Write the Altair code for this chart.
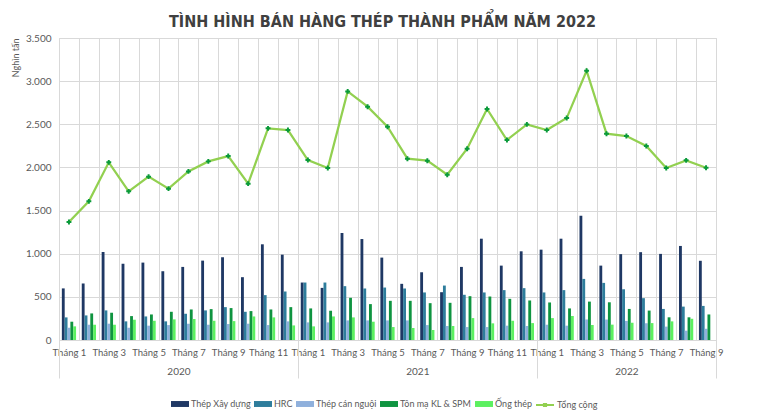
import json
import altair as alt
import pandas as pd

# ---------------- data ----------------
years = ["2020"] * 12 + ["2021"] * 12 + ["2022"] * 9
months = list(range(1, 13)) * 2 + list(range(1, 10))
keys = [f"{y}-{m:02d}" for y, m in zip(years, months)]
tick_labels = [f"Tháng {m}" if m % 2 == 1 else "" for m in months]

series_names = ["Thép Xây dựng", "HRC", "Thép cán nguội", "Tôn mạ KL & SPM", "Ống thép"]
total_name = "Tổng cộng"

thep_xd = [598, 655, 1020, 885, 897, 797, 847, 920, 959, 728, 1109, 989,
           666, 604, 1240, 1170, 955, 651, 785, 554, 847, 1174, 862, 1028,
           1047, 1174, 1440, 862, 995, 1018, 998, 1090, 918]
hrc = [262, 285, 343, 216, 273, 216, 304, 343, 381, 327, 520, 562,
       666, 666, 624, 597, 608, 597, 551, 631, 524, 551, 578, 601,
       551, 578, 708, 662, 588, 485, 360, 387, 395]
can_nguoi = [142, 177, 189, 142, 166, 173, 189, 177, 185, 189, 173, 216,
             204, 204, 227, 227, 227, 227, 173, 162, 150, 150, 166, 162,
             177, 166, 238, 237, 221, 194, 155, 108, 130]
ton_ma = [212, 308, 316, 277, 296, 327, 354, 358, 370, 335, 354, 381,
          366, 339, 489, 416, 454, 454, 427, 431, 508, 504, 477, 458,
          435, 366, 445, 437, 360, 341, 263, 263, 296]
ong_thep = [158, 177, 177, 235, 223, 239, 243, 223, 219, 273, 262, 169,
            158, 273, 262, 212, 150, 139, 116, 162, 254, 193, 223, 196,
            254, 277, 174, 178, 200, 196, 216, 246, None]
tong_cong = [1367, 1607, 2059, 1723, 1893, 1754, 1954, 2070, 2132, 1812, 2453, 2433,
             2086, 1993, 2881, 2704, 2472, 2101, 2078, 1916, 2217, 2677, 2318, 2499,
             2433, 2572, 3121, 2391, 2364, 2248, 1993, 2082, 1997]

y_ticks = [0, 500, 1000, 1500, 2000, 2500, 3000, 3500]
year_names = ["2020", "2021", "2022"]

colors = ["#1f3864", "#2e7d9c", "#8fb0dc", "#0f9440", "#5cf060"]
line_color = "#92d050"
marker_color = "#0a9a3a"
grid_color = "#d9d9d9"
text_color = "#595959"
FONT = "Lato"

# ---------------- tables ----------------
rows = []
for name, vals in zip(series_names, [thep_xd, hrc, can_nguoi, ton_ma, ong_thep]):
    for k, v in zip(keys, vals):
        if v is not None:
            rows.append({"key": k, "series": name, "value": v})
bars_df = pd.DataFrame(rows)
total_df = pd.DataFrame({"key": keys, "value": tong_cong, "name": total_name})

# year spans for the lower axis
counts = [years.count(y) for y in year_names]
bounds = [0]
for c in counts:
    bounds.append(bounds[-1] + c)
mids = [(bounds[i] + bounds[i + 1]) / 2 for i in range(len(year_names))]
year_df = pd.DataFrame({"pos": mids, "year": year_names})
sep_df = pd.DataFrame({"pos": bounds})

label_map = dict(zip(keys, tick_labels))
year_map = {str(int(m)) if float(m).is_integer() else str(m): y for m, y in zip(mids, year_names)}

n = len(keys)
W, H = 657, 302

xenc = alt.X(
    "key:N", sort=keys,
    scale=alt.Scale(paddingInner=0, paddingOuter=0),
    axis=alt.Axis(
        title=None, labelExpr=f"{json.dumps(label_map, ensure_ascii=False)}[datum.value]",
        labelAngle=0, ticks=False, tickBand="extent", grid=True, gridColor=grid_color,
        domain=True, domainColor=grid_color, labelPadding=7, labelOverlap=False,
        labelFont=FONT, labelFontSize=9.5, labelColor=text_color,
    ),
)

legend_common = dict(title=None, orient="none", direction="horizontal",
                     labelFont=FONT, labelFontSize=9, labelColor=text_color,
                     labelOffset=2, columnPadding=3, labelLimit=200, symbolSize=324)

bars = alt.Chart(bars_df).mark_bar().encode(
    x=xenc,
    xOffset=alt.XOffset("series:N", sort=series_names,
                        scale=alt.Scale(paddingInner=0, paddingOuter=1)),
    y=alt.Y("value:Q", scale=alt.Scale(domain=[0, 3500], nice=False),
            axis=alt.Axis(values=y_ticks, labelExpr="replace(format(datum.value, ','), ',', '.')",
                          title="Nghìn tấn", titleAnchor="end", titleFontSize=9,
                          titleFontWeight="normal", titleColor=text_color, titleFont=FONT,
                          titlePadding=5, labelPadding=8, ticks=False, domain=False,
                          gridColor=grid_color, labelColor=text_color, labelFont=FONT,
                          labelFontSize=10)),
    color=alt.Color("series:N", sort=series_names,
                    scale=alt.Scale(domain=series_names, range=colors),
                    legend=alt.Legend(legendX=112, legendY=357, symbolStrokeWidth=0,
                                      symbolType="M-1,-0.33H1V0.33H-1Z", **legend_common)),
)

line = alt.Chart(total_df).mark_line(strokeWidth=2.25).encode(
    x=alt.X("key:N", sort=keys),
    y=alt.Y("value:Q"),
    stroke=alt.Stroke("name:N",
                      scale=alt.Scale(domain=[total_name], range=[line_color]),
                      legend=alt.Legend(legendX=476, legendY=357, symbolStrokeWidth=2,
                                        symbolType="M-1,0H1M-0.12,-0.12H0.12V0.12H-0.12Z",
                                        symbolFillColor=marker_color, **legend_common)),
)
points = alt.Chart(total_df).mark_point(shape="cross", filled=True, size=24,
                                         color=marker_color, opacity=1).encode(
    x=alt.X("key:N", sort=keys),
    y=alt.Y("value:Q"),
)

main = alt.layer(bars, line, points)

qscale = alt.Scale(domain=[0, n], nice=False, zero=False)
sep_layer = alt.Chart(sep_df).mark_point(opacity=0).encode(
    x=alt.X("pos:Q", scale=qscale,
            axis=alt.Axis(orient="bottom", values=bounds, labels=False, domain=False,
                          grid=False, ticks=True, tickSize=38, tickColor=grid_color,
                          title=None)),
)
year_layer = alt.Chart(year_df).mark_point(opacity=0).encode(
    x=alt.X("pos:Q", scale=qscale,
            axis=alt.Axis(orient="bottom", values=mids,
                          labelExpr=f"{json.dumps(year_map)}[datum.value + '']",
                          labels=True, domain=False, grid=False, ticks=False,
                          labelPadding=26, labelFont=FONT, labelFontSize=10,
                          labelColor=text_color, title=None)),
)

chart = alt.layer(main, sep_layer, year_layer).resolve_scale(x="independent").properties(
    width=W, height=H,
    title=alt.Title("TÌNH HÌNH BÁN HÀNG THÉP THÀNH PHẨM NĂM 2022",
                    font="DejaVu Sans Condensed, Roboto",
                    fontSize=16, fontWeight="bold", color="#404040",
                    anchor="middle", frame="group", offset=0, dx=-5, dy=-3),
    autosize=alt.AutoSizeParams(type="none"),
    padding={"left": 51, "top": 30, "right": 41, "bottom": 76},
).configure_view(stroke=grid_color)

chart.save("out.html", embed_options={"renderer": "svg", "actions": False})
